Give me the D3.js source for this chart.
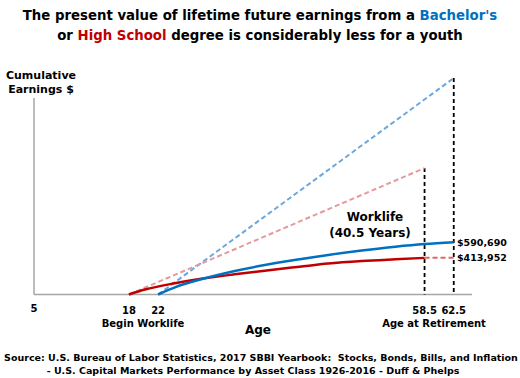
<!DOCTYPE html>
<html><head><meta charset="utf-8">
<script src="https://cdn.jsdelivr.net/npm/d3@7"></script>
<style>body{margin:0;background:#fff}svg{display:block}text{font-family:"DejaVu Sans",Verdana,sans-serif;font-weight:bold}</style>
</head><body><svg id="c" width="520" height="378"></svg>
<script>
// Data (ages in years, values in $)
const hsAges = [18, 20.2, 24.3, 28.4, 32.5, 36.6, 41.4, 45.3, 49.9, 54.5, 58.5];
const hsPV   = [0, 56000, 127000, 183000, 228000, 269000, 314000, 350000, 378000, 398000, 413952];
const baAges = [22, 24.3, 28.4, 32.5, 36.6, 41.4, 45.3, 49.9, 54.5, 58.5, 62.5];
const baPV   = [0, 81000, 183000, 266000, 333000, 398000, 447000, 497000, 540000, 570000, 590690];
const hsNominalAges = [18, 58.5];
const hsNominal = [0, 1429000];
const baNominalAges = [22, 62.5];
const baNominal = [0, 2446000];
const tickAges = [5, 18, 22, 58.5, 62.5];
const tickLabels = ["5", "18", "22", "58.5", "62.5"];
const retireAges = [58.5, 62.5];
const endLabels = ["$590,690", "$413,952"];
const endValues = [590690, 413952];

const svg = d3.select("#c");
const x = d3.scaleLinear().domain([5, 65]).range([34, 472]);
const y = d3.scaleLinear().domain([0, 2500000]).range([294.5, 73.3]);
const blue = "#0070C0", red = "#C00000", lblue = "#6AA8DE", lred = "#E39A9A";

// title
const t = svg.append("text").attr("text-anchor","middle").attr("font-size",13.3);
const l1 = t.append("tspan").attr("x",260).attr("y",20);
l1.append("tspan").text("The present value of lifetime future earnings from a ");
l1.append("tspan").attr("fill",blue).text("Bachelor's");
const l2 = t.append("tspan").attr("x",260).attr("y",40);
l2.append("tspan").text("or ");
l2.append("tspan").attr("fill",red).text("High School");
l2.append("tspan").text(" degree is considerably less for a youth");

// axes
svg.append("line").attr("x1",x(5)).attr("x2",x(5)).attr("y1",98).attr("y2",y(0)).attr("stroke","#a6a6a6").attr("stroke-width",1.5);
svg.append("line").attr("x1",x(5)).attr("x2",x(65)).attr("y1",y(0)).attr("y2",y(0)).attr("stroke","#a6a6a6").attr("stroke-width",1.5);

// retirement verticals
svg.selectAll(".ret").data(retireAges.map((a,i)=>[a,[hsNominal[1],baNominal[1]][i]])).enter().append("line")
  .attr("x1",d=>x(d[0])).attr("x2",d=>x(d[0])).attr("y1",d=>y(d[1])).attr("y2",y(0))
  .attr("stroke","#000").attr("stroke-width",1.8).attr("stroke-dasharray","4,3");

const line = d3.line().x(d=>x(d[0])).y(d=>y(d[1]));
const curve = d3.line().x(d=>x(d[0])).y(d=>y(d[1])).curve(d3.curveMonotoneX);
const zip = (a,b)=>a.map((v,i)=>[v,b[i]]);

svg.append("path").attr("d",line(zip(baNominalAges,baNominal))).attr("fill","none").attr("stroke",lblue).attr("stroke-width",2).attr("stroke-dasharray","5,3");
svg.append("path").attr("d",line(zip(hsNominalAges,hsNominal))).attr("fill","none").attr("stroke",lred).attr("stroke-width",2).attr("stroke-dasharray","5,3");
svg.append("path").attr("d",line([[58.5,hsPV[hsPV.length-1]],[62.5,hsPV[hsPV.length-1]]])).attr("fill","none").attr("stroke","#E06666").attr("stroke-width",2).attr("stroke-dasharray","5,3");
svg.append("path").attr("d",curve(zip(hsAges,hsPV))).attr("fill","none").attr("stroke",red).attr("stroke-width",2.5);
svg.append("path").attr("d",curve(zip(baAges,baPV))).attr("fill","none").attr("stroke",blue).attr("stroke-width",2.5);

// tick labels
svg.selectAll(".tl").data(tickAges).enter().append("text").attr("x",d=>x(d)).attr("y",(d,i)=>i==0?312:314)
  .attr("text-anchor","middle").attr("font-size",10).text((d,i)=>tickLabels[i]);
svg.append("text").attr("x",143).attr("y",327).attr("text-anchor","middle").attr("font-size",10).text("Begin Worklife");
svg.append("text").attr("x",434).attr("y",327).attr("text-anchor","middle").attr("font-size",10).text("Age at Retirement");
svg.append("text").attr("x",258).attr("y",334).attr("text-anchor","middle").attr("font-size",12).text("Age");

// y label
svg.append("text").attr("x",41).attr("y",79).attr("text-anchor","middle").attr("font-size",11).text("Cumulative");
svg.append("text").attr("x",41).attr("y",93).attr("text-anchor","middle").attr("font-size",11).text("Earnings $");

// worklife
svg.append("text").attr("x",375).attr("y",221).attr("text-anchor","middle").attr("font-size",12).text("Worklife");
svg.append("text").attr("x",370).attr("y",237).attr("text-anchor","middle").attr("font-size",12).text("(40.5 Years)");

// end labels
svg.selectAll(".el").data(endValues).enter().append("text").attr("x",457).attr("y",d=>y(d)+3.5)
  .attr("font-size",9.5).text((d,i)=>endLabels[i]);

// source
svg.append("text").attr("x",261).attr("y",361).attr("text-anchor","middle").attr("font-size",9.5).text("Source: U.S. Bureau of Labor Statistics, 2017 SBBI Yearbook:  Stocks, Bonds, Bills, and Inflation").attr("xml:space","preserve");
svg.append("text").attr("x",253).attr("y",374).attr("text-anchor","middle").attr("font-size",9.5).text("- U.S. Capital Markets Performance by Asset Class 1926-2016 - Duff & Phelps");
</script></body></html>
